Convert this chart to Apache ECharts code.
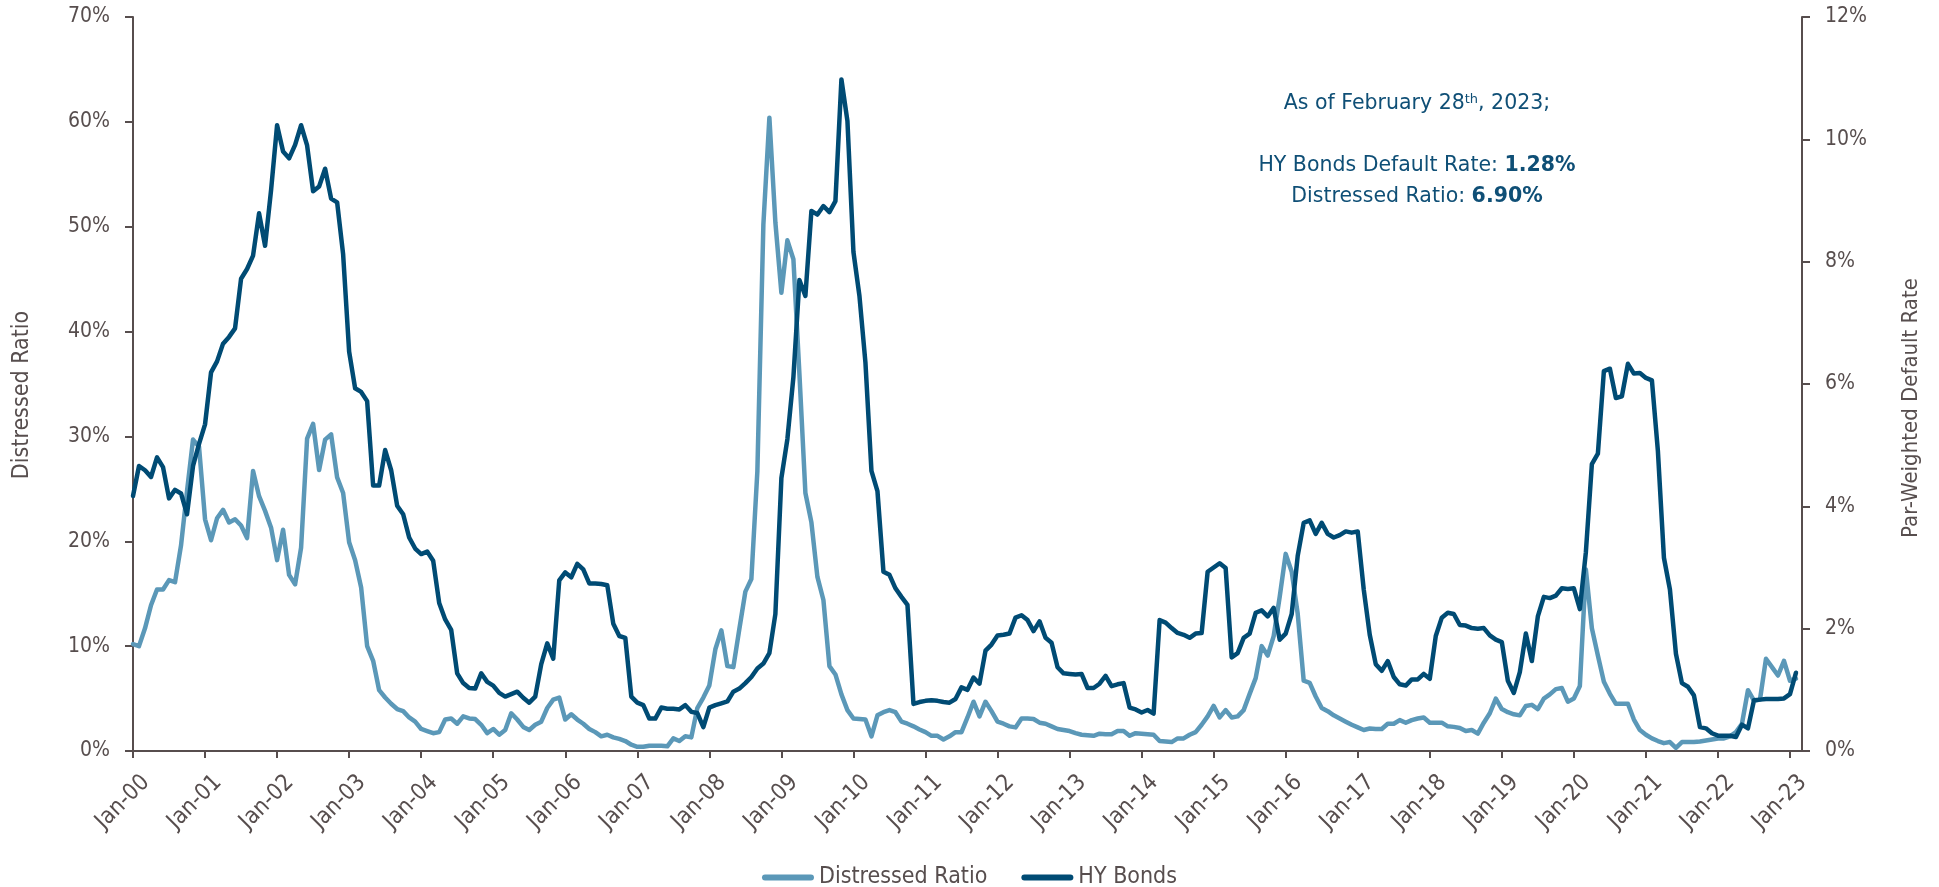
<!DOCTYPE html>
<html>
<head>
<meta charset="utf-8">
<script src="https://cdn.jsdelivr.net/npm/echarts@6/dist/echarts.min.js"></script>
<style>
  html, body { margin: 0; padding: 0; background: #ffffff; }
  #chart { width: 1939px; height: 887px; }
</style>
</head>
<body>
<div id="chart"></div>
<script>
// Month labels, Jan-00 through Mar-23 (the last slot closes the axis)
const monthNames = ['Jan','Feb','Mar','Apr','May','Jun','Jul','Aug','Sep','Oct','Nov','Dec'];
const months = [];
for (let y = 2000; y <= 2023; y++) {
  for (let m = 0; m < 12; m++) {
    if (y === 2023 && m > 2) break;
    months.push(monthNames[m] + '-' + String(y % 100).padStart(2, '0'));
  }
}

// Distressed ratio, % (left axis), monthly Jan-00 .. Feb-23
const distressedRatio = [
  10.2, 10.0, 11.7, 13.9, 15.4, 15.4, 16.3, 16.1, 19.6, 24.8, 29.7, 29.0,
  22.1, 20.1, 22.2, 23.0, 21.8, 22.1, 21.5, 20.3, 26.7, 24.3, 22.9, 21.3,
  18.2, 21.1, 16.8, 15.9, 19.4, 29.8, 31.2, 26.8, 29.7, 30.2, 26.1, 24.6,
  19.9, 18.2, 15.6, 10.0, 8.6, 5.8, 5.1, 4.5, 4.0, 3.8, 3.2, 2.8,
  2.1, 1.9, 1.7, 1.8, 3.0, 3.1, 2.6, 3.3, 3.1, 3.05, 2.5, 1.7,
  2.1, 1.55, 2.0, 3.6, 3.0, 2.3, 2.0, 2.5, 2.8, 4.1, 4.9, 5.1,
  3.0, 3.5, 3.0, 2.6, 2.1, 1.8, 1.4, 1.55, 1.3, 1.15, 0.95, 0.6,
  0.4, 0.4, 0.5, 0.5, 0.5, 0.45, 1.2, 0.95, 1.4, 1.3, 4.1, 5.1,
  6.25, 9.7, 11.5, 8.1, 8.0, 11.65, 15.2, 16.4, 26.7, 50.2, 60.4, 50.4,
  43.7, 48.7, 46.9, 36.0, 24.6, 21.8, 16.6, 14.4, 8.1, 7.3, 5.4, 3.9,
  3.1, 3.05, 3.0, 1.4, 3.4, 3.7, 3.9, 3.7, 2.8, 2.6, 2.35, 2.05,
  1.8, 1.45, 1.45, 1.1, 1.4, 1.8, 1.8, 3.2, 4.7, 3.3, 4.7, 3.8,
  2.8, 2.6, 2.35, 2.25, 3.1, 3.1, 3.05, 2.7, 2.6, 2.35, 2.1, 2.0,
  1.9, 1.7, 1.55, 1.5, 1.45, 1.65, 1.6, 1.6, 1.9, 1.9, 1.45, 1.7,
  1.65, 1.6, 1.55, 0.95, 0.9, 0.85, 1.2, 1.2, 1.55, 1.8, 2.5, 3.3,
  4.3, 3.2, 3.9, 3.2, 3.3, 3.9, 5.45, 6.95, 10.0, 9.1, 10.95, 14.7,
  18.8, 17.1, 13.1, 6.7, 6.5, 5.2, 4.1, 3.8, 3.4, 3.1, 2.8, 2.5,
  2.25, 2.0, 2.15, 2.1, 2.1, 2.6, 2.6, 2.95, 2.7, 2.95, 3.1, 3.2,
  2.7, 2.7, 2.7, 2.35, 2.3, 2.2, 1.9, 2.0, 1.65, 2.7, 3.6, 5.0,
  4.0, 3.7, 3.5, 3.4, 4.3, 4.4, 4.0, 5.0, 5.4, 5.9, 6.0, 4.7,
  5.0, 6.2, 17.3, 11.7, 9.1, 6.6, 5.45, 4.5, 4.5, 4.5, 3.0, 2.0,
  1.55, 1.2, 0.95, 0.75, 0.85, 0.3, 0.85, 0.85, 0.85, 0.9, 1.0, 1.1,
  1.2, 1.2, 1.4, 1.8, 2.6, 5.8, 4.8, 4.9, 8.8, 8.0, 7.2, 8.6,
  6.7, 6.90
];

// HY bonds par-weighted default rate, % (right axis), monthly Jan-00 .. Feb-23
const hyBonds = [
  4.17, 4.66, 4.59, 4.48, 4.80, 4.64, 4.13, 4.27, 4.21, 3.87, 4.66, 5.02,
  5.34, 6.19, 6.37, 6.66, 6.77, 6.91, 7.72, 7.88, 8.10, 8.79, 8.26, 9.17,
  10.23, 9.80, 9.69, 9.91, 10.23, 9.90, 9.15, 9.23, 9.52, 9.03, 8.97, 8.12,
  6.53, 5.93, 5.87, 5.72, 4.34, 4.34, 4.92, 4.59, 4.01, 3.87, 3.49, 3.31,
  3.22, 3.26, 3.11, 2.42, 2.15, 1.98, 1.27, 1.11, 1.03, 1.02, 1.27, 1.13,
  1.07, 0.95, 0.89, 0.93, 0.97, 0.87, 0.79, 0.89, 1.42, 1.76, 1.51, 2.79,
  2.92, 2.84, 3.06, 2.97, 2.74, 2.74, 2.73, 2.71, 2.08, 1.88, 1.85, 0.89,
  0.79, 0.75, 0.53, 0.53, 0.71, 0.69, 0.69, 0.68, 0.75, 0.64, 0.62, 0.39,
  0.71, 0.75, 0.78, 0.81, 0.97, 1.02, 1.11, 1.21, 1.35, 1.43, 1.60, 2.24,
  4.46, 5.10, 6.11, 7.70, 7.44, 8.83, 8.77, 8.91, 8.81, 8.99, 10.98, 10.30,
  8.16, 7.44, 6.35, 4.58, 4.25, 2.93, 2.88, 2.66, 2.52, 2.39, 0.77, 0.80,
  0.82, 0.83, 0.82, 0.80, 0.79, 0.85, 1.04, 1.00, 1.20, 1.10, 1.64, 1.74,
  1.89, 1.90, 1.92, 2.18, 2.22, 2.14, 1.96, 2.12, 1.85, 1.77, 1.37, 1.27,
  1.26, 1.25, 1.26, 1.03, 1.03, 1.10, 1.23, 1.06, 1.09, 1.11, 0.71, 0.68,
  0.63, 0.67, 0.61, 2.14, 2.10, 2.01, 1.93, 1.90, 1.85, 1.92, 1.93, 2.93,
  3.00, 3.07, 2.99, 1.53, 1.60, 1.85, 1.92, 2.26, 2.30, 2.20, 2.34, 1.82,
  1.92, 2.24, 3.19, 3.73, 3.77, 3.55, 3.73, 3.55, 3.49, 3.53, 3.59, 3.57,
  3.59, 2.64, 1.90, 1.42, 1.31, 1.47, 1.21, 1.09, 1.07, 1.17, 1.17, 1.26,
  1.18, 1.88, 2.18, 2.26, 2.24, 2.06, 2.05, 2.01, 2.00, 2.01, 1.89, 1.82,
  1.78, 1.15, 0.95, 1.29, 1.92, 1.47, 2.20, 2.52, 2.50, 2.54, 2.66, 2.65,
  2.66, 2.32, 3.25, 4.69, 4.86, 6.21, 6.25, 5.77, 5.80, 6.33, 6.17, 6.18,
  6.10, 6.06, 4.90, 3.16, 2.64, 1.59, 1.11, 1.05, 0.91, 0.39, 0.37, 0.29,
  0.25, 0.25, 0.25, 0.23, 0.43, 0.37, 0.83, 0.84, 0.85, 0.85, 0.85, 0.86,
  0.93, 1.28
];

const leftTicks = { min: 0, max: 70, interval: 10 };
const rightTicks = { min: 0, max: 12, interval: 2 };

const LIGHT = '#5b98b8';
const DARK = '#004b74';
const AXIS = '#574e4e';
const NOTE = '#0f4f76';
const COND = "'DejaVu Sans Condensed', 'Liberation Sans Narrow', sans-serif";
const NOTE_FONT = "'DejaVu Sans', sans-serif";

const yearStart = (idx) => idx % 12 === 0;

const lastHy = hyBonds[hyBonds.length - 1].toFixed(2);
const lastDr = distressedRatio[distressedRatio.length - 1].toFixed(2);

const noteRich = {
  n: { fontSize: 20.5, fontFamily: NOTE_FONT, fill: NOTE, color: NOTE },
  b: { fontSize: 20.5, fontFamily: NOTE_FONT, fontWeight: 'bold', fill: NOTE, color: NOTE },
  sup: { fontSize: 13, fontFamily: NOTE_FONT, fill: NOTE, color: NOTE, verticalAlign: 'top' }
};

function noteText(x, y, text) {
  return {
    type: 'text', x: x, y: y, silent: true,
    style: {
      text: text, rich: noteRich,
      font: '20.5px ' + NOTE_FONT, fontSize: 20.5, fontFamily: NOTE_FONT, fill: NOTE,
      align: 'center', textAlign: 'center',
      verticalAlign: 'middle', textVerticalAlign: 'middle'
    }
  };
}

function plainText(x, y, text, size, rotation, align) {
  return {
    type: 'text', x: x, y: y, rotation: rotation, silent: true,
    style: {
      text: text, font: size + 'px ' + COND, fontSize: size, fontFamily: COND, fill: AXIS,
      align: align, textAlign: align,
      verticalAlign: 'middle', textVerticalAlign: 'middle'
    }
  };
}

const chart = echarts.init(document.getElementById('chart'), null, { renderer: 'canvas' });

const valueAxisBase = {
  type: 'value',
  splitLine: { show: false },
  axisLine: { show: true, lineStyle: { color: AXIS, width: 2 } },
  axisTick: { show: true, length: 8, lineStyle: { color: AXIS, width: 2 } },
  axisLabel: { formatter: '{value}%', fontSize: 21, fontFamily: COND, color: AXIS, margin: 23 }
};

chart.setOption({
  animation: false,
  backgroundColor: '#ffffff',
  grid: { left: 133, right: 137, top: 17, bottom: 136, containLabel: false },
  legend: {
    left: 'center', top: 861,
    itemWidth: 52, itemHeight: 6, itemGap: 34,
    icon: 'path://M3,0H49A3,3 0 0 1 49,6H3A3,3 0 0 1 3,0Z',
    textStyle: { fontSize: 23, fontFamily: COND, color: AXIS },
    data: ['Distressed Ratio', 'HY Bonds']
  },
  xAxis: {
    type: 'category',
    data: months,
    boundaryGap: false,
    axisLine: { show: true, lineStyle: { color: AXIS, width: 2 } },
    axisTick: { show: true, length: 7, interval: yearStart, lineStyle: { color: AXIS, width: 2 } },
    axisLabel: { show: false },
    splitLine: { show: false }
  },
  yAxis: [
    Object.assign({}, valueAxisBase, leftTicks, { position: 'left' }),
    Object.assign({}, valueAxisBase, rightTicks, { position: 'right' })
  ],
  series: [
    {
      name: 'Distressed Ratio', type: 'line', yAxisIndex: 0,
      data: distressedRatio, symbol: 'none', color: LIGHT,
      lineStyle: { width: 4.5, color: LIGHT, cap: 'round', join: 'round' }
    },
    {
      name: 'HY Bonds', type: 'line', yAxisIndex: 1,
      data: hyBonds, symbol: 'none', color: DARK,
      lineStyle: { width: 4.5, color: DARK, cap: 'round', join: 'round' }
    }
  ]
});

// Year labels under the axis, placed from the axis scale and slanted 45 degrees
const axisY = chart.convertToPixel({ yAxisIndex: 0 }, 0);
const yearLabels = [];
months.forEach(function (label, i) {
  if (!yearStart(i)) return;
  const x = chart.convertToPixel({ xAxisIndex: 0 }, i);
  yearLabels.push(plainText(x + 13, axisY + 28, label, 23, Math.PI / 4, 'right'));
});

chart.setOption({
  graphic: yearLabels.concat([
    plainText(22, 395, 'Distressed Ratio', 23, Math.PI / 2, 'center'),
    plainText(1911, 408, 'Par-Weighted Default Rate', 22, Math.PI / 2, 'center'),
    noteText(1417, 104, '{n|As of February 28}{sup|th}{n|, 2023;}'),
    noteText(1417, 166, '{n|HY Bonds Default Rate: }{b|' + lastHy + '%}'),
    noteText(1417, 197, '{n|Distressed Ratio: }{b|' + lastDr + '%}')
  ])
});
</script>
</body>
</html>
